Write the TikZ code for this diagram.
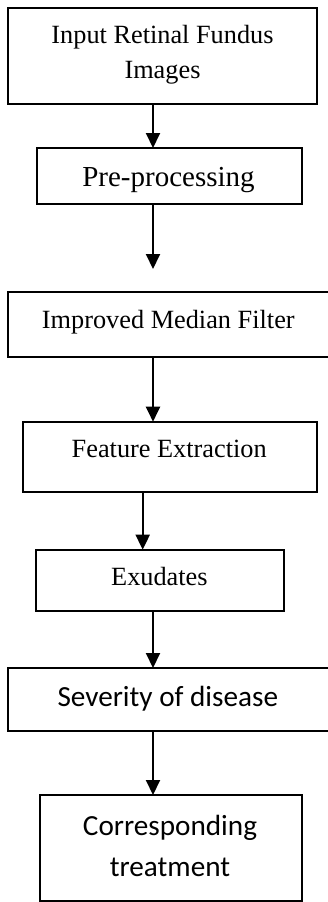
\documentclass[tikz,border=0pt]{standalone}
\usepackage{fontspec}
\setmainfont{Liberation Serif}
\newfontfamily\calibrilike{Carlito}
\usetikzlibrary{arrows.meta}

\tikzset{
  box/.style={draw, line width=2pt, rectangle, inner sep=0pt, outer sep=0pt},
  serifA/.style={anchor=base, inner sep=0pt, font=\fontsize{26.3}{32}\selectfont},
  serifB/.style={anchor=base, inner sep=0pt, font=\fontsize{29}{35}\selectfont},
  sanslbl/.style={anchor=base, inner sep=0pt, font=\calibrilike\fontsize{29.2}{35}\selectfont},
  flow/.style={line width=2pt, -{Triangle[length=15pt,width=14pt]}}
}

\begin{document}
\begin{tikzpicture}[x=1pt, y=-1pt]
  \useasboundingbox (0,0) rectangle (327,902);

  % process boxes
  \node[box, minimum width=308.4pt, minimum height=96.3pt] (b1) at (162.5,55.85) {};
  \node[box, minimum width=265.3pt, minimum height=56.3pt] (b2) at (169.35,176.15) {};
  \node[box, minimum width=331.7pt, minimum height=65pt]   (b3) at (174.15,324.2) {};
  \node[box, minimum width=294pt,   minimum height=70.6pt] (b4) at (169.7,457) {};
  \node[box, minimum width=248pt,   minimum height=61.3pt] (b5) at (160,580.35) {};
  \node[box, minimum width=331.7pt, minimum height=62.7pt] (b6) at (174.15,699.35) {};
  \node[box, minimum width=261.7pt, minimum height=106pt]  (b7) at (170.85,848) {};

  % labels
  \node[serifA] (t1a) at (162.5,43.3) {Input Retinal Fundus};
  \node[serifA] (t1b) at (162.5,78.6) {Images};
  \node[serifB] (t2)  at (168.5,186) {Pre-processing};
  \node[serifA] (t3)  at (168.3,328.3) {Improved Median Filter};
  \node[serifA] (t4)  at (169.2,457.3) {Feature Extraction};
  \node[serifA] (t5)  at (159.4,585) {Exudates};
  \node[sanslbl] (t6) at (167.8,706.7) {Severity of disease};
  \node[sanslbl] (t7a) at (170,835) {Corresponding};
  \node[sanslbl] (t7b) at (170,876.7) {treatment};

  % connector columns
  \coordinate (ax) at (153,0);
  \coordinate (bx) at (142.7,0);
  \coordinate (e2) at (153,269);

  % connectors
  \draw[flow] (b1.south -| ax) -- (b2.north -| ax);
  \draw[flow] (b2.south -| ax) -- (e2);
  \draw[flow] (b3.south -| ax) -- (b4.north -| ax);
  \draw[flow] (b4.south -| bx) -- (b5.north -| bx);
  \draw[flow] (b5.south -| ax) -- (b6.north -| ax);
  \draw[flow] (b6.south -| ax) -- (b7.north -| ax);
\end{tikzpicture}
\end{document}
